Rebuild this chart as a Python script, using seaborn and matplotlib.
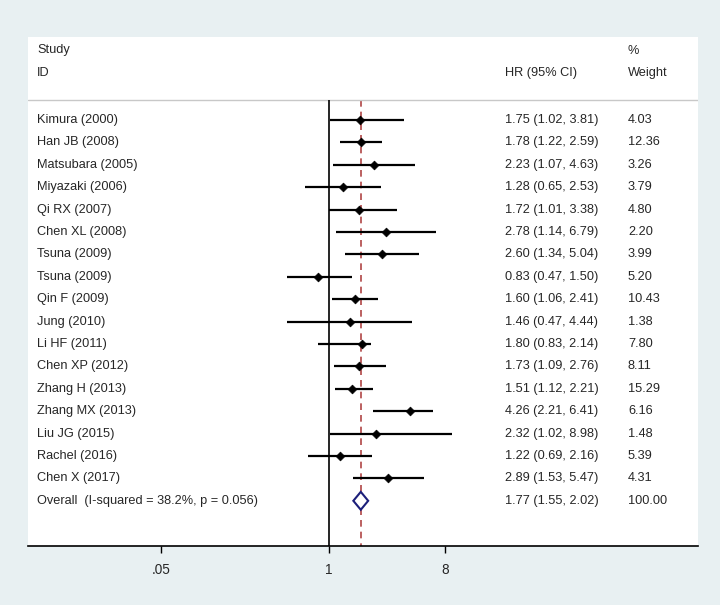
import numpy as np
import pandas as pd
import matplotlib
matplotlib.use("Agg")
import matplotlib.pyplot as plt
import seaborn as sns

# 연구별 데이터
studies = ["Kimura (2000)", "Han JB (2008)", "Matsubara (2005)", "Miyazaki (2006)",
           "Qi RX (2007)", "Chen XL (2008)", "Tsuna (2009)", "Tsuna (2009)",
           "Qin F (2009)", "Jung (2010)", "Li HF (2011)", "Chen XP (2012)",
           "Zhang H (2013)", "Zhang MX (2013)", "Liu JG (2015)", "Rachel (2016)",
           "Chen X (2017)"]
hr = [1.75, 1.78, 2.23, 1.28, 1.72, 2.78, 2.60, 0.83, 1.60, 1.46, 1.80, 1.73,
      1.51, 4.26, 2.32, 1.22, 2.89]
lo = [1.02, 1.22, 1.07, 0.65, 1.01, 1.14, 1.34, 0.47, 1.06, 0.47, 0.83, 1.09,
      1.12, 2.21, 1.02, 0.69, 1.53]
hi = [3.81, 2.59, 4.63, 2.53, 3.38, 6.79, 5.04, 1.50, 2.41, 4.44, 2.14, 2.76,
      2.21, 6.41, 8.98, 2.16, 5.47]
weight = ["4.03", "12.36", "3.26", "3.79", "4.80", "2.20", "3.99", "5.20", "10.43",
          "1.38", "7.80", "8.11", "15.29", "6.16", "1.48", "5.39", "4.31"]

overall_label = "Overall  (I-squared = 38.2%, p = 0.056)"
overall_hr, overall_lo, overall_hi = 1.77, 1.55, 2.02
overall_weight = "100.00"

tick_vals = [0.05, 1, 8]
tick_labels = [".05", "1", "8"]

df = pd.DataFrame({"study": studies, "hr": hr, "lo": lo, "hi": hi, "weight": weight})
df["row"] = np.arange(len(df))
overall_row = len(df)

### 스타일
sns.set_style("white")
plt.rcParams["font.family"] = ["Liberation Sans", "DejaVu Sans"]
bg = "#e8f0f2"
fs = 9.2

fig = plt.figure(figsize=(7.2, 6.05), dpi=100, facecolor=bg)
ax = fig.add_axes([28 / 720, 1 - 546 / 605, 670 / 720, 509 / 605])
ax.set_facecolor("white")

ax.set_xscale("log")
ax.set_xlim(np.exp((28 - 328.8) / 56), np.exp((698 - 328.8) / 56))
ax.set_ylim((546 - 120) / 22.4, (37 - 120) / 22.4)
top_line = (100 - 120) / 22.4

# 기준선 (HR = 1) 및 전체 효과 점선
ax.vlines(1, top_line, ax.get_ylim()[0], color="black", lw=1.2, zorder=2)
ax.vlines(overall_hr, top_line, ax.get_ylim()[0], color="#b04545", lw=1.2,
          linestyles=(0, (4, 3)), zorder=1)
ax.axhline(top_line, color="#c8c8c8", lw=1.0, zorder=1)

# 신뢰구간 + 점
ax.hlines(df["row"], df["lo"], df["hi"], color="black", lw=1.6, zorder=3)
sns.scatterplot(data=df, x="hr", y="row", marker="D", s=20, color="black",
                edgecolor="black", linewidth=0.5, ax=ax, zorder=4, legend=False)

# 전체 효과 다이아몬드
h = 0.4
ax.fill([overall_lo, overall_hr, overall_hi, overall_hr],
        [overall_row, overall_row - h, overall_row, overall_row + h],
        facecolor="white", edgecolor="#1c1f7a", lw=1.5, zorder=5)

# 텍스트 열
tr = ax.get_yaxis_transform()
x_id, x_hr, x_w = 9 / 670, 477 / 670, 600 / 670
for _, r in df.iterrows():
    ax.text(x_id, r["row"], r["study"], transform=tr, va="center", fontsize=fs)
    ax.text(x_hr, r["row"], f"{r['hr']:.2f} ({r['lo']:.2f}, {r['hi']:.2f})",
            transform=tr, va="center", fontsize=fs)
    ax.text(x_w, r["row"], r["weight"], transform=tr, va="center", fontsize=fs)
ax.text(x_id, overall_row, overall_label, transform=tr, va="center", fontsize=fs)
ax.text(x_hr, overall_row, f"{overall_hr:.2f} ({overall_lo:.2f}, {overall_hi:.2f})",
        transform=tr, va="center", fontsize=fs)
ax.text(x_w, overall_row, overall_weight, transform=tr, va="center", fontsize=fs)

# 헤더
row_study = (50.5 - 120) / 22.4
row_id = (72.7 - 120) / 22.4
ax.text(x_id, row_study, "Study", transform=tr, va="center", fontsize=fs)
ax.text(x_id, row_id, "ID", transform=tr, va="center", fontsize=fs)
ax.text(x_hr, row_id, "HR (95% CI)", transform=tr, va="center", fontsize=fs)
ax.text(x_w, row_study, "%", transform=tr, va="center", fontsize=fs)
ax.text(x_w, row_id, "Weight", transform=tr, va="center", fontsize=fs)

# 축
for s in ["top", "right", "left"]:
    ax.spines[s].set_visible(False)
ax.spines["bottom"].set_color("black")
ax.spines["bottom"].set_linewidth(1.2)
ax.set_xticks(tick_vals)
ax.set_xticklabels(tick_labels, fontsize=9.8)
ax.xaxis.set_minor_locator(matplotlib.ticker.NullLocator())
ax.tick_params(axis="x", direction="out", length=5, width=1, color="black", pad=7,
               bottom=True)
ax.set_yticks([])
ax.set_xlabel("")
ax.set_ylabel("")

fig.savefig("out.png", dpi=100, facecolor=bg)
